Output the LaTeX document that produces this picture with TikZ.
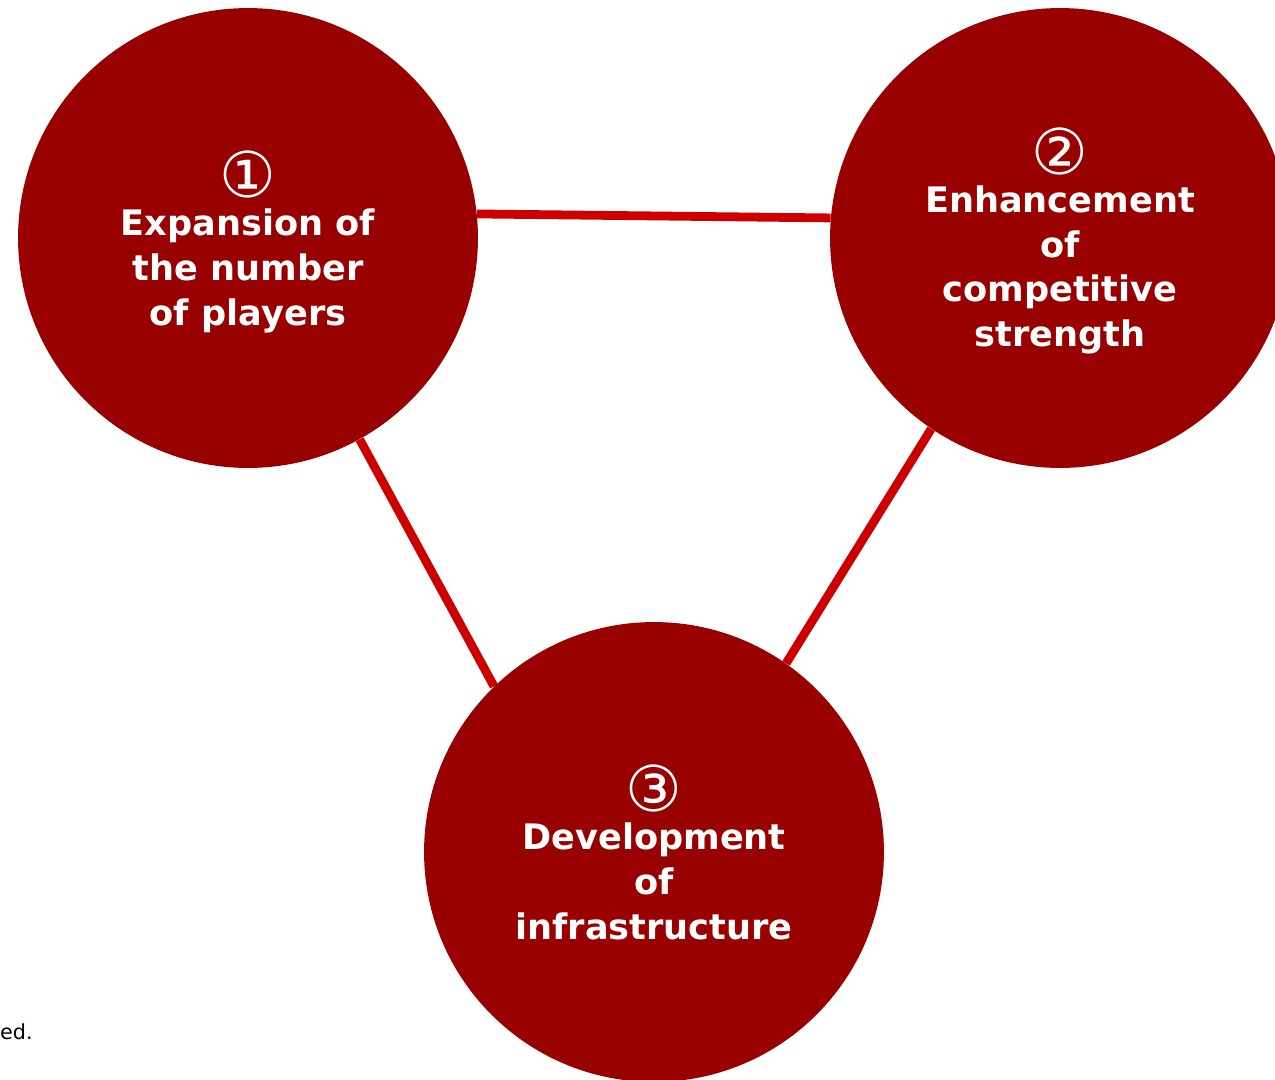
\documentclass[tikz,border=0pt]{standalone}
\usepackage{fontspec}
\setmainfont{DejaVu Sans}
\usetikzlibrary{backgrounds}
\definecolor{circred}{HTML}{990000}
\definecolor{linkred}{HTML}{CC0000}
\newcommand{\goalnum}[1]{\raisebox{0pt}[0pt][0pt]{\fontsize{36}{36}\selectfont\mdseries #1}}

\begin{document}
\begin{tikzpicture}[x=0.02cm, y=-0.02cm,
    goal/.style={circle, fill=circred, draw=none, minimum size=9.2cm, inner sep=0pt,
        text=white, align=center, font=\bfseries\fontsize{20}{25.5}\selectfont},
    link/.style={draw=linkred, line width=5pt}]
				\useasboundingbox (0,0) rectangle (1275,1079);
				\node[goal] (expansion) at (248,238) {};
				\node[goal] (enhancement) at (1060,238) {};
				\node[goal] (development) at (654,852) {};
				% labels inside the circles
				\node[goal, fill=none, yshift=-15.5pt] (expansiontext) at (expansion) {\goalnum{①}\\[-4pt]Expansion of\\the number\\of players};
				\node[goal, fill=none, yshift=-15pt] (enhancementtext) at (enhancement) {\goalnum{②}\\[-4pt]Enhancement\\of\\competitive\\strength};
				\node[goal, fill=none, yshift=-13.5pt] (developmenttext) at (development) {\goalnum{③}\\[-4pt]Development\\of\\infrastructure};
				\node[anchor=east, font=\fontsize{11.8}{14}\selectfont, inner sep=0pt] (note) at (33,1032) {ed.};
				\begin{scope}[on background layer]
				\draw[link] (expansion.6) -- (enhancement.175);
				\draw[link] (expansion.-61.5) -- (development.134.5);
				\draw[link] (enhancement.-124) -- (development.55.4);
				\end{scope}
			\end{tikzpicture}
\end{document}
